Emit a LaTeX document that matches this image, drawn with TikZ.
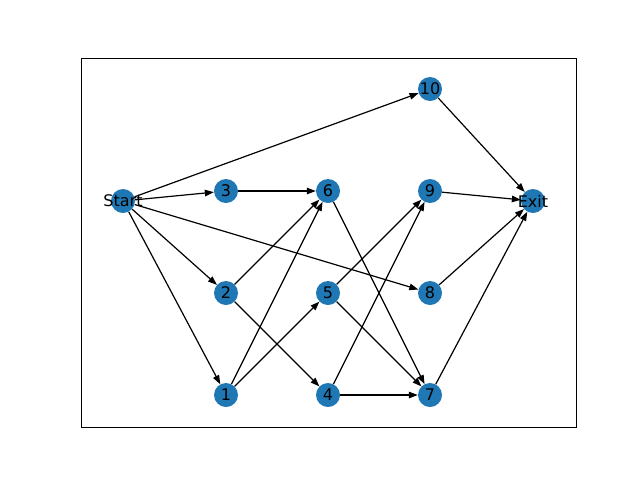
\documentclass[tikz,border=0pt]{standalone}
\usepackage{fontspec}
\setmainfont{DejaVu Sans}
\usepackage{tikz}
\usetikzlibrary{arrows.meta}
\usepackage{xcolor}
\definecolor{nodeblue}{RGB}{31,119,180}
\pgfdeclarelayer{edgelayer}
\pgfsetlayers{edgelayer,main}

\begin{document}
\begin{tikzpicture}[x=1pt,y=-1pt,
  vert/.style={circle,fill=nodeblue,minimum size=24pt,inner sep=0pt},
  every label/.style={font=\fontsize{16}{19}\selectfont,inner sep=0pt},
  edge/.style={-{Triangle[length=9pt,width=6.5pt]},line width=1.2pt}]
  \useasboundingbox (0,0) rectangle (640,480);
  % 枠
  \draw[line width=1pt] (81,58) rectangle (576,427);

  % 頂点の配置
  \node[vert,label={center:Start}] (s) at (123,201) {};
  \node[vert,label={center:Exit}] (e) at (533,201) {};
  \node[vert,label={center:10}] (n10) at (430,89) {};
  \node[vert,label={center:3}] (n3) at (226,191) {};
  \node[vert,label={center:6}] (n6) at (328,191) {};
  \node[vert,label={center:9}] (n9) at (430,191) {};
  \node[vert,label={center:2}] (n2) at (226,293) {};
  \node[vert,label={center:5}] (n5) at (328,293) {};
  \node[vert,label={center:8}] (n8) at (430,293) {};
  \node[vert,label={center:1}] (n1) at (226,395) {};
  \node[vert,label={center:4}] (n4) at (328,395) {};
  \node[vert,label={center:7}] (n7) at (430,395) {};

  % 辺の描画
  \begin{pgfonlayer}{edgelayer}
    \foreach \a/\b in {s/n10,s/n3,s/n2,s/n1,s/n8,n3/n6,n6/n7,n2/n6,n2/n4,
                       n1/n6,n1/n5,n5/n9,n5/n7,n4/n9,n4/n7,n9/e,n8/e,n7/e,n10/e} {
      \draw[edge] (\a) -- (\b);
    }
  \end{pgfonlayer}
\end{tikzpicture}
\end{document}
